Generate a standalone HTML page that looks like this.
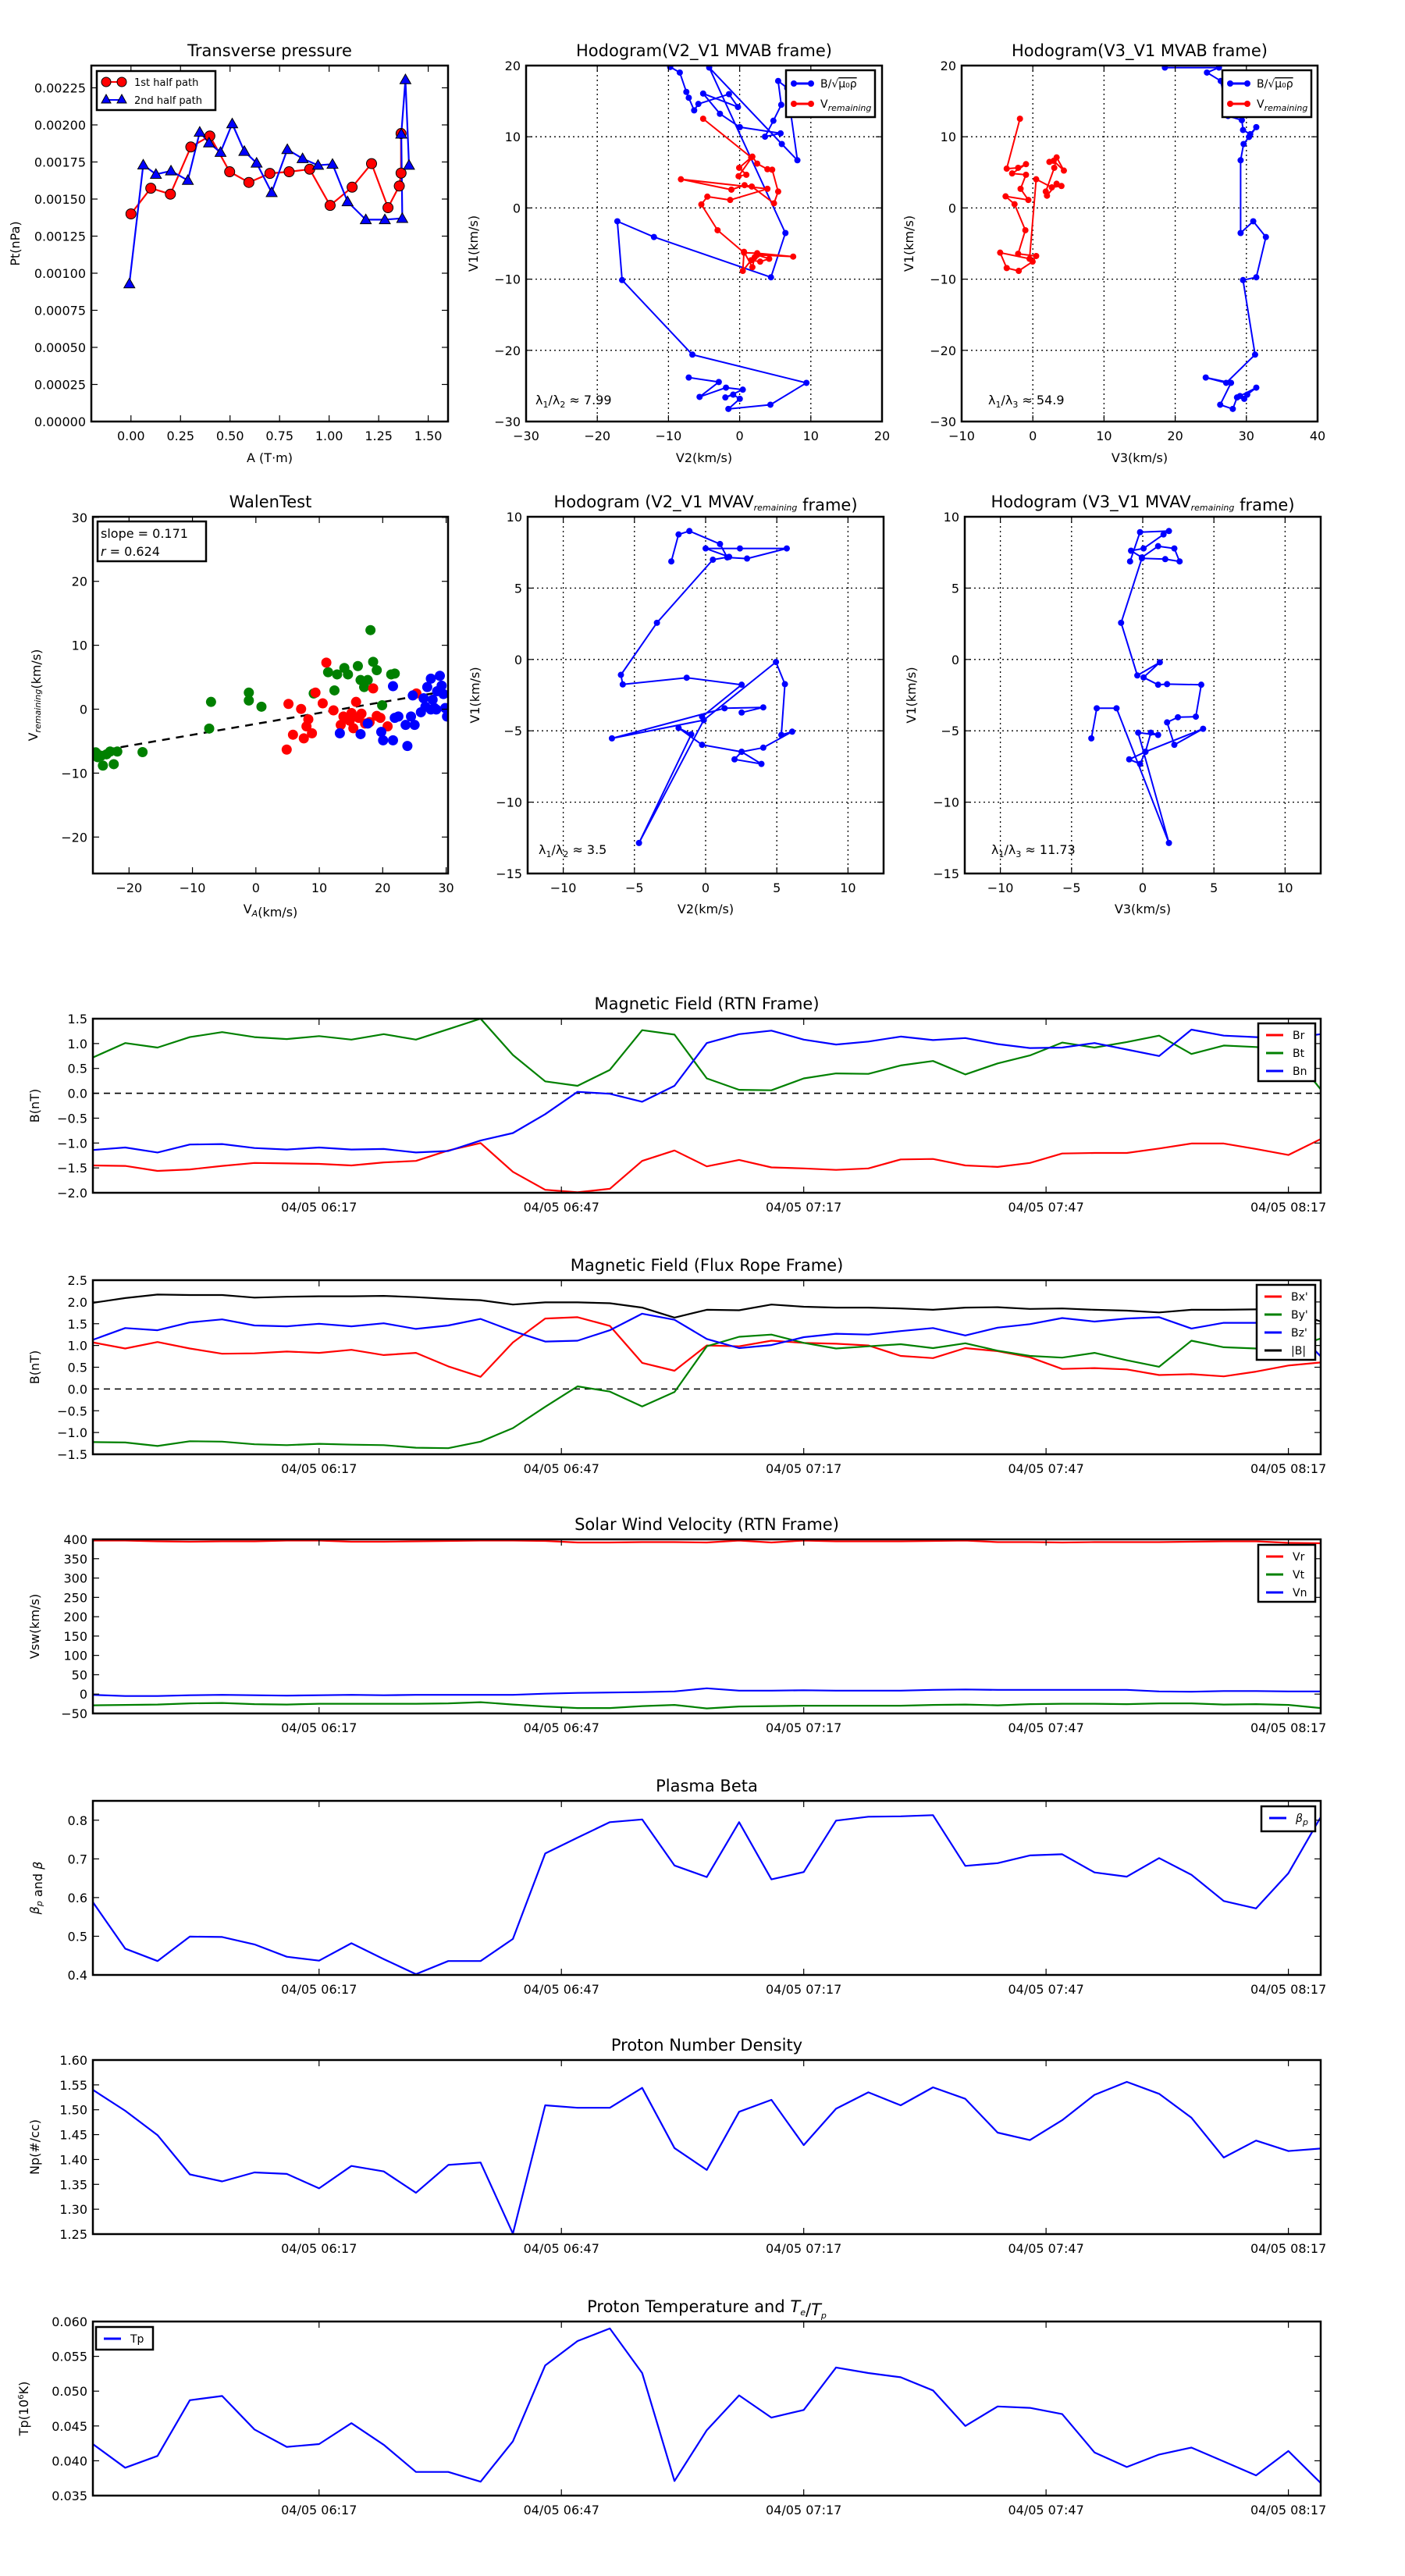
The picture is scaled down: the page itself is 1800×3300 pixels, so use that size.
<!DOCTYPE html>
<html><head><meta charset="utf-8"><title>Flux rope analysis</title>
<style>
html,body{margin:0;padding:0;background:#fff;}
svg{display:block;font-family:"DejaVu Sans","Liberation Sans",sans-serif;}
</style></head>
<body>
<svg id="fig" width="1800" height="3300" viewBox="0 0 1800 3300" xmlns="http://www.w3.org/2000/svg"></svg>
<script>
// ---------- Data ----------
const presRedA=[0,0.100,0.199,0.302,0.398,0.498,0.595,0.701,0.798,0.902,1.005,1.116,1.214,1.297,1.354,1.363,1.363];
const presRedPt=[0.00140,0.001573,0.001533,0.001851,0.001925,0.001684,0.001612,0.001673,0.001684,0.001701,0.001457,0.001580,0.001739,0.001442,0.001588,0.001675,0.001942];
const presBlueA=[-0.008,0.062,0.126,0.202,0.287,0.347,0.394,0.452,0.511,0.572,0.634,0.710,0.789,0.866,0.944,1.017,1.093,1.185,1.281,1.369,1.364,1.385,1.403];
const presBluePt=[0.000929,0.001730,0.001667,0.001690,0.001626,0.001951,0.001879,0.001815,0.002008,0.001822,0.001743,0.001544,0.001834,0.001773,0.001728,0.001735,0.001482,0.001361,0.001361,0.001370,0.001938,0.002305,0.001728];

const hA_bV2=[-9.76,-8.41,-7.49,-7.15,-6.39,-5.80,-1.50,-0.24,-5.13,-2.77,0.02,5.75,3.56,4.74,5.84,5.41,6.68,8.11,5.92,-4.28,6.43,4.40,-12.04,-17.18,-16.51,-6.64,9.38,4.32,-1.58,0.02,-0.91,-2.01,0.44,-1.92,-5.63,-2.93,-7.15];
const hA_bV1=[19.80,19.02,16.30,15.48,13.71,14.61,15.99,14.18,16.07,13.23,11.35,10.48,10.01,12.25,14.49,17.84,16.85,6.70,8.98,19.72,-3.52,-9.74,-4.08,-1.87,-10.13,-20.60,-24.57,-27.64,-28.23,-26.81,-26.22,-26.62,-25.52,-25.24,-26.54,-24.45,-23.82];
const hA_rV2=[-5.13,1.62,-0.07,0.94,-0.15,1.79,2.46,3.90,4.57,5.41,4.82,1.70,0.69,-1.16,-8.25,3.90,-1.33,-4.54,-5.38,-3.10,0.61,2.46,7.52,2.46,4.15,2.88,1.62,0.44,0.61,1.79,2.12];
const hA_rV1=[12.53,7.10,5.64,4.66,4.46,7.21,6.23,5.44,5.37,2.30,0.65,3.01,3.20,2.57,4.03,2.69,1.12,1.59,0.49,-3.13,-6.28,-6.36,-6.83,-6.59,-7.14,-7.54,-7.34,-8.84,-6.16,-8.32,-6.91];

const hB_bV3=[18.55,26.15,24.46,26.40,27.42,29.36,29.53,30.54,31.39,30.37,29.61,29.19,29.19,30.96,32.74,31.39,29.53,31.22,27.16,24.29,27.84,26.32,28.09,28.68,29.70,30.12,31.39,29.10];
const hB_bV1=[19.72,19.72,19.02,17.84,12.92,12.33,10.95,10.36,11.35,9.97,8.98,6.70,-3.52,-1.87,-4.08,-9.74,-10.13,-20.60,-24.57,-23.82,-24.57,-27.64,-28.23,-26.62,-26.81,-26.22,-25.24,-26.42];
const hB_rV3=[-1.81,-3.67,-2.06,-0.96,-2.91,-0.96,-1.72,-0.63,-3.83,-2.57,-1.05,-2.06,0.47,-0.03,-1.98,-3.67,-4.59,-0.46,0.47,2.67,4.02,3.34,1.99,1.82,3.01,3.34,4.36,2.92,2.33];
const hB_rV1=[12.53,5.52,5.64,6.15,4.85,4.66,2.69,1.12,1.63,0.53,-3.13,-6.44,-6.75,-7.54,-8.84,-8.44,-6.28,-7.14,4.03,2.89,3.08,3.40,1.72,2.30,5.64,7.10,5.25,6.62,6.47];

const walGreenVA=[-25.26,-24.40,-24.12,-23.55,-22.98,-22.41,-21.85,-17.87,-7.36,-7.07,-1.11,-1.11,0.88,9.12,12.39,11.39,12.81,13.95,14.52,16.08,16.51,17.07,17.64,18.07,18.49,19.06,19.91,21.34,21.90,-24.97];
const walGreenV=[-6.75,-7.28,-8.82,-7.06,-6.62,-8.60,-6.62,-6.71,-3.03,1.14,2.59,1.36,0.39,2.46,2.94,5.79,5.44,6.45,5.44,6.75,4.56,3.46,4.56,12.37,7.41,6.10,0.61,5.44,5.57,-7.50];
const walRedVA=[4.86,5.14,5.85,7.13,7.56,7.98,8.27,8.84,9.40,10.54,11.11,12.24,13.38,14.23,14.80,15.37,15.80,16.22,16.65,17.22,17.93,18.49,19.06,19.63,20.77,25.31,13.81,15.09];
const walRedV=[-6.32,0.83,-3.99,0.04,-4.56,-2.68,-1.58,-3.77,2.59,0.92,7.28,-0.18,-2.46,-1.36,-1.80,-2.98,1.14,-1.36,-0.70,-2.24,-2.02,3.25,-1.05,-1.36,-2.68,2.46,-1.14,-0.61];
const walBlueVA=[13.24,16.51,17.64,19.77,20.06,21.62,21.62,21.90,22.47,23.61,23.89,24.46,24.74,25.03,26.02,26.45,27.02,27.59,27.87,28.15,28.58,29.01,29.29,29.57,29.86,30.14,28.44,27.59,26.73];
const walBlueV=[-3.77,-3.90,-2.24,-3.55,-4.87,-4.87,3.60,-1.36,-1.14,-2.46,-5.75,-1.14,2.15,-2.46,-0.48,1.71,3.46,4.78,1.49,0.18,2.81,5.22,3.68,2.37,0.18,-1.14,-0.04,-0.04,0.39];
const walSlope=0.171, walIntercept=-2.3;

const hC_V2=[-2.41,-1.90,-1.14,1.01,1.52,2.91,5.70,2.41,0.00,1.65,0.51,-3.42,-5.95,-5.82,-1.33,2.53,-0.25,-0.13,4.94,5.57,5.32,6.08,4.05,2.53,2.03,3.92,2.53,-0.25,-1.90,-1.01,-4.68,-0.13,-6.58,1.33,4.05,2.53];
const hC_V1=[6.87,8.76,9.00,8.09,7.15,7.07,7.78,7.78,7.78,7.19,6.99,2.57,-1.08,-1.75,-1.28,-1.77,-4.01,-4.25,-0.18,-1.73,-5.29,-5.06,-6.18,-6.47,-7.00,-7.32,-6.47,-5.98,-4.80,-5.25,-12.86,-4.25,-5.53,-3.42,-3.36,-3.72];
const hD_V3=[-0.89,-0.19,1.84,1.46,0.06,-0.82,-0.06,1.08,2.22,2.59,1.58,-0.06,-1.52,-0.38,1.20,0.06,1.08,1.71,4.11,3.73,2.47,1.71,2.22,4.24,0.19,-0.95,-0.19,0.19,0.57,1.08,-0.32,1.84,-1.84,-3.23,-3.61];
const hD_V1=[6.87,8.92,9.00,8.76,7.78,7.62,7.15,7.94,7.78,6.87,7.03,7.09,2.57,-1.12,-0.20,-1.26,-1.77,-1.73,-1.77,-4.01,-4.05,-4.41,-5.98,-4.86,-6.47,-7.00,-7.32,-6.47,-5.13,-5.29,-5.13,-12.86,-3.42,-3.42,-5.53];

const timeTickIdx=[7,14.5,22,29.5,37];
const timeTickLabels=['04/05 06:17','04/05 06:47','04/05 07:17','04/05 07:47','04/05 08:17'];

const Br=[-1.45,-1.46,-1.56,-1.53,-1.46,-1.40,-1.41,-1.42,-1.45,-1.39,-1.36,-1.15,-1.00,-1.58,-1.94,-1.99,-1.92,-1.36,-1.15,-1.47,-1.34,-1.49,-1.51,-1.54,-1.51,-1.33,-1.32,-1.45,-1.48,-1.40,-1.21,-1.20,-1.20,-1.11,-1.01,-1.01,-1.12,-1.24,-0.92];
const Bt=[0.72,1.01,0.92,1.13,1.23,1.13,1.09,1.15,1.08,1.19,1.08,1.29,1.50,0.77,0.24,0.15,0.47,1.27,1.18,0.30,0.07,0.06,0.30,0.40,0.39,0.56,0.65,0.38,0.60,0.76,1.02,0.92,1.03,1.16,0.79,0.96,0.93,0.88,0.08];
const Bn=[-1.14,-1.09,-1.19,-1.03,-1.02,-1.10,-1.13,-1.09,-1.13,-1.12,-1.19,-1.16,-0.95,-0.80,-0.42,0.03,-0.01,-0.17,0.15,1.01,1.19,1.26,1.08,0.98,1.04,1.14,1.07,1.11,0.99,0.91,0.92,1.01,0.88,0.75,1.28,1.16,1.13,1.10,1.19];

const Bxp=[1.07,0.93,1.08,0.93,0.81,0.82,0.86,0.83,0.90,0.78,0.83,0.52,0.28,1.07,1.62,1.65,1.45,0.60,0.42,1.00,0.98,1.11,1.06,1.04,1.00,0.76,0.71,0.94,0.87,0.73,0.46,0.48,0.45,0.32,0.34,0.29,0.40,0.54,0.61];
const Byp=[-1.22,-1.23,-1.31,-1.20,-1.21,-1.27,-1.29,-1.26,-1.28,-1.29,-1.35,-1.36,-1.21,-0.90,-0.41,0.06,-0.06,-0.40,-0.07,0.98,1.20,1.25,1.06,0.93,0.98,1.03,0.94,1.05,0.88,0.76,0.72,0.83,0.66,0.51,1.11,0.96,0.93,0.91,1.16];
const Bzp=[1.13,1.40,1.35,1.53,1.60,1.46,1.44,1.50,1.44,1.51,1.38,1.46,1.61,1.33,1.09,1.11,1.35,1.73,1.59,1.15,0.94,1.01,1.19,1.27,1.25,1.33,1.40,1.23,1.41,1.49,1.63,1.55,1.62,1.65,1.39,1.52,1.52,1.52,0.75];
const Bmag=[1.98,2.09,2.17,2.16,2.16,2.10,2.12,2.13,2.13,2.14,2.11,2.07,2.04,1.94,1.99,1.99,1.97,1.87,1.64,1.82,1.81,1.94,1.89,1.87,1.87,1.85,1.82,1.87,1.88,1.84,1.85,1.82,1.80,1.76,1.82,1.82,1.83,1.83,1.55];

const Vr=[397,397,395,394,395,395,397,397,394,394,395,396,397,397,396,392,392,393,393,392,397,392,397,395,395,395,396,397,393,393,392,393,393,393,394,395,395,391,390];
const Vt=[-29,-28,-27,-24,-23,-26,-27,-25,-25,-25,-25,-24,-21,-27,-32,-36,-36,-31,-28,-37,-32,-31,-30,-30,-30,-30,-28,-27,-29,-26,-25,-25,-26,-24,-24,-27,-26,-28,-36];
const Vn=[-2,-5,-5,-3,-2,-3,-4,-3,-2,-3,-2,-2,-2,-2,1,3,4,5,7,15,9,9,10,9,9,9,11,12,11,11,11,11,11,7,6,8,8,7,7];

const betaP=[0.588,0.468,0.436,0.499,0.498,0.479,0.447,0.437,0.482,0.441,0.402,0.436,0.436,0.493,0.714,0.755,0.795,0.802,0.683,0.653,0.795,0.647,0.666,0.799,0.809,0.810,0.813,0.682,0.689,0.709,0.712,0.665,0.654,0.702,0.659,0.591,0.572,0.663,0.808];
const Np=[1.540,1.498,1.449,1.370,1.356,1.374,1.371,1.342,1.387,1.376,1.333,1.389,1.394,1.251,1.509,1.504,1.504,1.544,1.423,1.379,1.496,1.520,1.429,1.502,1.535,1.509,1.545,1.522,1.454,1.439,1.479,1.530,1.556,1.532,1.484,1.404,1.438,1.417,1.422];
const Tp=[0.0424,0.0390,0.0407,0.0487,0.0493,0.0445,0.0420,0.0424,0.0454,0.0423,0.0384,0.0384,0.0370,0.0428,0.0537,0.0572,0.0590,0.0526,0.0371,0.0444,0.0494,0.0462,0.0473,0.0534,0.0526,0.0520,0.0501,0.0450,0.0478,0.0476,0.0467,0.0412,0.0391,0.0409,0.0419,0.0399,0.0379,0.0414,0.0368];

// ---------- Helpers ----------
const NS='http://www.w3.org/2000/svg';
const svg=document.getElementById('fig');
let clipN=0;
function el(tag,attrs,parent,name){
  const e=document.createElementNS(NS,tag);
  for(const k in attrs) e.setAttribute(k,attrs[k]);
  
  
  parent.appendChild(e);
  return e;
}
function txt(parent,x,y,s,size,anchor,name,extra){
  const a={x:x,y:y,'font-size':size,'text-anchor':anchor||'middle',fill:'#000'};
  if(extra) for(const k in extra) a[k]=extra[k];
  const t=el('text',a,parent,name);
  t.innerHTML=s;
  return t;
}
function fmt(v,d){return v.toFixed(d).replace('-','\u2212');}

function axes(o){
  const g=el('g',{},svg,o.name);
  const sx=v=>o.x+(v-o.xmin)/(o.xmax-o.xmin)*o.w;
  const sy=v=>o.y+o.h-(v-o.ymin)/(o.ymax-o.ymin)*o.h;
  const cid='clip'+(clipN++);
  const defs=el('defs',{},g,'clip-defs');
  const cp=el('clipPath',{id:cid},defs,'clip-path');
  el('rect',{x:o.x,y:o.y,width:o.w,height:o.h},cp,'clip-rect');
  if(o.grid){
    (o.xt||[]).forEach(v=>{ if(v>o.xmin&&v<o.xmax) el('line',{x1:sx(v),y1:o.y,x2:sx(v),y2:o.y+o.h,stroke:'#000','stroke-width':1.3,'stroke-dasharray':'2,4'},g,'grid-line-x'); });
    (o.yt||[]).forEach(v=>{ if(v>o.ymin&&v<o.ymax) el('line',{x1:o.x,y1:sy(v),x2:o.x+o.w,y2:sy(v),stroke:'#000','stroke-width':1.3,'stroke-dasharray':'2,4'},g,'grid-line-y'); });
  }
  const data=el('g',{'clip-path':'url(#'+cid+')'},g,'plot-area');
  const tg=el('g',{},g,'ticks');
  (o.xt||[]).forEach((v,i)=>{
    const X=sx(v);
    el('line',{x1:X,y1:o.y+o.h,x2:X,y2:o.y+o.h-8,stroke:'#000','stroke-width':1.2},tg,'x-tick');
    el('line',{x1:X,y1:o.y,x2:X,y2:o.y+8,stroke:'#000','stroke-width':1.2},tg,'x-tick');
    const lab=o.xlab?o.xlab[i]:fmt(v,o.xd||0);
    txt(tg,X,o.y+o.h+24,lab,16,'middle','x-tick-label');
  });
  (o.yt||[]).forEach(v=>{
    const Y=sy(v);
    el('line',{x1:o.x,y1:Y,x2:o.x+8,y2:Y,stroke:'#000','stroke-width':1.2},tg,'y-tick');
    el('line',{x1:o.x+o.w,y1:Y,x2:o.x+o.w-8,y2:Y,stroke:'#000','stroke-width':1.2},tg,'y-tick');
    txt(tg,o.x-7,Y+6,fmt(v,o.yd||0),16,'end','y-tick-label');
  });
  if(o.title) txt(g,o.x+o.w/2,o.y-12,o.title,21,'middle','chart-title');
  if(o.ylabel) txt(g,o.ylx,o.y+o.h/2,o.ylabel,16,'middle','y-axis-title',{transform:'rotate(-90 '+o.ylx+' '+(o.y+o.h/2)+')'});
  if(o.xlabel) txt(g,o.x+o.w/2,o.xly,o.xlabel,16,'middle','x-axis-title');
  return {g,data,sx,sy,o,finish(){
    el('rect',{x:o.x,y:o.y,width:o.w,height:o.h,fill:'none',stroke:'#000','stroke-width':2.5},g,'axes-frame');
  }};
}
function polyline(ax,xs,ys,color,w,name){
  const pts=xs.map((v,i)=>ax.sx(v).toFixed(1)+','+ax.sy(ys[i]).toFixed(1)).join(' ');
  return el('polyline',{points:pts,fill:'none',stroke:color,'stroke-width':w,'stroke-linejoin':'round'},ax.data,name);
}
function dots(ax,xs,ys,color,r,name,stroke){
  xs.forEach((v,i)=>{
    const c=el('circle',{cx:ax.sx(v),cy:ax.sy(ys[i]),r:r,fill:color,stroke:stroke||'none','stroke-width':1},ax.data,name);
  });
}
function tris(ax,xs,ys,color,s,name){
  xs.forEach((v,i)=>{
    const X=ax.sx(v),Y=ax.sy(ys[i]);
    el('polygon',{points:(X)+','+(Y-s)+' '+(X-s)+','+(Y+s*0.75)+' '+(X+s)+','+(Y+s*0.75),fill:color,stroke:'#000','stroke-width':1},ax.data,name);
  });
}
function range(a,b,s){const r=[];for(let v=a;v<=b+1e-9;v+=s)r.push(Math.round(v/s)*s);return r;}
function legendBox(x,y,w,h,name){
  const g=el('g',{},svg,name);
  el('rect',{x:x,y:y,width:w,height:h,fill:'#fff',stroke:'#000','stroke-width':2.5},g,'legend-frame');
  return g;
}
function legendLine(g,x,y,color,label,name,marker,fs){
  const e=el('g',{},g,name);
  el('line',{x1:x,y1:y,x2:x+22,y2:y,stroke:color,'stroke-width':3},e,'legend-swatch');
  if(marker==='dot'){el('circle',{cx:x,cy:y,r:4,fill:color},e,'legend-marker');el('circle',{cx:x+22,cy:y,r:4,fill:color},e,'legend-marker');}
  txt(e,x+34,y+5,label,fs||14,'start','legend-label');
}
const sub=s=>'<tspan font-size="11" font-style="italic" dy="4">'+s+'</tspan><tspan dy="-4"></tspan>';

// ---------- Transverse pressure ----------
{
 const ax=axes({name:'transverse-pressure-chart',x:117,y:84,w:457,h:456,xmin:-0.2,xmax:1.6,ymin:0,ymax:0.0024,
   xt:range(0,1.5,0.25),xd:2,yt:range(0,0.00225,0.00025),yd:5,title:'Transverse pressure',ylabel:'Pt(nPa)',ylx:25,xlabel:'A (T·m)',xly:592});
 polyline(ax,presRedA,presRedPt,'red',2.2,'first-half-line');
 polyline(ax,presBlueA,presBluePt,'blue',2.2,'second-half-line');
 dots(ax,presRedA,presRedPt,'red',6.5,'first-half-point','#000');
 tris(ax,presBlueA,presBluePt,'blue',7,'second-half-point');
 ax.finish();
 const lg=legendBox(124,91,152,50,'pressure-legend');
 const e1=el('g',{},lg,'legend-entry-first-half');
 el('line',{x1:136,y1:105,x2:156,y2:105,stroke:'red','stroke-width':2},e1,'legend-swatch');
 el('circle',{cx:136,cy:105,r:6,fill:'red',stroke:'#000'},e1,'legend-marker');
 el('circle',{cx:156,cy:105,r:6,fill:'red',stroke:'#000'},e1,'legend-marker');
 txt(e1,172,110,'1st half path',13,'start','legend-label');
 const e2=el('g',{},lg,'legend-entry-second-half');
 el('line',{x1:136,y1:128,x2:156,y2:128,stroke:'blue','stroke-width':2},e2,'legend-swatch');
 el('polygon',{points:'136,121 130,132 142,132',fill:'blue',stroke:'#000'},e2,'legend-marker');
 el('polygon',{points:'156,121 150,132 162,132',fill:'blue',stroke:'#000'},e2,'legend-marker');
 txt(e2,172,133,'2nd half path',13,'start','legend-label');
}
// ---------- Hodogram V2_V1 MVAB ----------
function hodoLegend(x){
 const lg=legendBox(x,90,114,60,'hodogram-legend');
 legendLine(lg,x+10,107,'blue','B/√<tspan text-decoration="overline">μ₀ρ</tspan>','legend-entry-b','dot',14);
 legendLine(lg,x+10,133,'red','V'+sub('remaining'),'legend-entry-vremaining','dot',14);
}
{
 const ax=axes({name:'hodogram-v2-v1-mvab',x:674,y:84,w:456,h:456,xmin:-30,xmax:20,ymin:-30,ymax:20,
   xt:range(-30,20,10),yt:range(-30,20,10),grid:true,title:'Hodogram(V2_V1 MVAB frame)',ylabel:'V1(km/s)',ylx:612,xlabel:'V2(km/s)',xly:592});
 polyline(ax,hA_bV2,hA_bV1,'blue',2,'b-hodogram-line'); dots(ax,hA_bV2,hA_bV1,'blue',4,'b-hodogram-point');
 polyline(ax,hA_rV2,hA_rV1,'red',2,'v-remaining-line'); dots(ax,hA_rV2,hA_rV1,'red',4,'v-remaining-point');
 txt(ax.g,686,518,'λ<tspan font-size="11" dy="4">1</tspan><tspan dy="-4">/λ</tspan><tspan font-size="11" dy="4">2</tspan><tspan dy="-4"> ≈ 7.99</tspan>',16,'start','eigenvalue-ratio');
 ax.finish(); hodoLegend(1007);
}
// ---------- Hodogram V3_V1 MVAB ----------
{
 const ax=axes({name:'hodogram-v3-v1-mvab',x:1232,y:84,w:456,h:456,xmin:-10,xmax:40,ymin:-30,ymax:20,
   xt:range(-10,40,10),yt:range(-30,20,10),grid:true,title:'Hodogram(V3_V1 MVAB frame)',ylabel:'V1(km/s)',ylx:1170,xlabel:'V3(km/s)',xly:592});
 polyline(ax,hB_bV3,hB_bV1,'blue',2,'b-hodogram-line'); dots(ax,hB_bV3,hB_bV1,'blue',4,'b-hodogram-point');
 polyline(ax,hB_rV3,hB_rV1,'red',2,'v-remaining-line'); dots(ax,hB_rV3,hB_rV1,'red',4,'v-remaining-point');
 txt(ax.g,1266,518,'λ<tspan font-size="11" dy="4">1</tspan><tspan dy="-4">/λ</tspan><tspan font-size="11" dy="4">3</tspan><tspan dy="-4"> ≈ 54.9</tspan>',16,'start','eigenvalue-ratio');
 ax.finish(); hodoLegend(1566);
}
// ---------- Walen test ----------
{
 const ax=axes({name:'walen-test-chart',x:119,y:662,w:455,h:457,xmin:-25.7,xmax:30.3,ymin:-25.7,ymax:30.1,
   xt:range(-20,30,10),yt:range(-20,30,10),title:'WalenTest',ylabel:'V'+sub('remaining')+'(km/s)',ylx:48,xlabel:'V'+sub('A')+'(km/s)',xly:1170});
 el('line',{x1:ax.sx(-25.7),y1:ax.sy(walIntercept+walSlope*-25.7),x2:ax.sx(30.3),y2:ax.sy(walIntercept+walSlope*30.3),stroke:'#000','stroke-width':2.5,'stroke-dasharray':'10,8'},ax.data,'fit-line');
 dots(ax,walGreenVA,walGreenV,'#008000',6.5,'walen-point-green');
 dots(ax,walRedVA,walRedV,'red',6.5,'walen-point-red');
 dots(ax,walBlueVA,walBlueV,'blue',6.5,'walen-point-blue');
 ax.finish();
 const b=el('g',{},svg,'fit-stats-box');
 el('rect',{x:125,y:668,width:139,height:51,fill:'#fff',stroke:'#000','stroke-width':2.5},b,'stats-frame');
 txt(b,129,689,'slope = 0.171',16,'start','slope-text');
 txt(b,129,712,'<tspan font-style="italic">r</tspan> = 0.624',16,'start','r-text');
}
// ---------- Hodogram MVAV remaining ----------
{
 const ax=axes({name:'hodogram-v2-v1-mvav',x:676,y:662,w:456,h:457,xmin:-12.5,xmax:12.5,ymin:-15,ymax:10,
   xt:range(-10,10,5),yt:range(-15,10,5),grid:true,title:'Hodogram (V2_V1 MVAV'+sub('remaining')+' frame)',ylabel:'V1(km/s)',ylx:614,xlabel:'V2(km/s)',xly:1170});
 polyline(ax,hC_V2,hC_V1,'blue',2,'hodogram-line'); dots(ax,hC_V2,hC_V1,'blue',4,'hodogram-point');
 txt(ax.g,690,1094,'λ<tspan font-size="11" dy="4">1</tspan><tspan dy="-4">/λ</tspan><tspan font-size="11" dy="4">2</tspan><tspan dy="-4"> ≈ 3.5</tspan>',16,'start','eigenvalue-ratio');
 ax.finish();
}
{
 const ax=axes({name:'hodogram-v3-v1-mvav',x:1236,y:662,w:456,h:457,xmin:-12.5,xmax:12.5,ymin:-15,ymax:10,
   xt:range(-10,10,5),yt:range(-15,10,5),grid:true,title:'Hodogram (V3_V1 MVAV'+sub('remaining')+' frame)',ylabel:'V1(km/s)',ylx:1173,xlabel:'V3(km/s)',xly:1170});
 polyline(ax,hD_V3,hD_V1,'blue',2,'hodogram-line'); dots(ax,hD_V3,hD_V1,'blue',4,'hodogram-point');
 txt(ax.g,1270,1094,'λ<tspan font-size="11" dy="4">1</tspan><tspan dy="-4">/λ</tspan><tspan font-size="11" dy="4">3</tspan><tspan dy="-4"> ≈ 11.73</tspan>',16,'start','eigenvalue-ratio');
 ax.finish();
}
// ---------- Time series ----------
const idx=Br.map((_,i)=>i);
function ts(o,series,legend){
 const ax=axes(Object.assign({x:119,w:1573,h:223,xmin:0,xmax:38,xt:timeTickIdx,xlab:timeTickLabels,ylx:50},o));
 if(o.zero) el('line',{x1:ax.sx(0),y1:ax.sy(0),x2:ax.sx(38),y2:ax.sy(0),stroke:'#000','stroke-width':1.6,'stroke-dasharray':'8,6'},ax.data,'zero-line');
 series.forEach(s=>polyline(ax,idx,s[0],s[1],2.2,s[2]));
 ax.finish();
 if(legend){
  const lg=legendBox(legend.x,legend.y,legend.w,legend.h,o.name+'-legend');
  legend.items.forEach((it,i)=>legendLine(lg,legend.x+10,legend.y+15+i*23,it[0],it[1],'legend-entry-'+i,null,14));
 }
}
ts({name:'magnetic-field-rtn-chart',y:1305,ymin:-2,ymax:1.5,yt:range(-2,1.5,0.5),yd:1,title:'Magnetic Field (RTN Frame)',ylabel:'B(nT)',zero:true},
   [[Br,'red','br-line'],[Bt,'#008000','bt-line'],[Bn,'blue','bn-line']],
   {x:1612,y:1311,w:73,h:74,items:[['red','Br'],['#008000','Bt'],['blue','Bn']]});
ts({name:'magnetic-field-flux-rope-chart',y:1640,ymin:-1.5,ymax:2.5,yt:range(-1.5,2.5,0.5),yd:1,title:'Magnetic Field (Flux Rope Frame)',ylabel:'B(nT)',zero:true},
   [[Bxp,'red','bx-line'],[Byp,'#008000','by-line'],[Bzp,'blue','bz-line'],[Bmag,'#000','bmag-line']],
   {x:1610,y:1646,w:75,h:96,items:[['red',"Bx'"],['#008000',"By'"],['blue',"Bz'"],['#000','|B|']]});
ts({name:'solar-wind-velocity-chart',y:1972,ymin:-50,ymax:400,yt:range(-50,400,50),yd:0,title:'Solar Wind Velocity (RTN Frame)',ylabel:'Vsw(km/s)'},
   [[Vr,'red','vr-line'],[Vt,'#008000','vt-line'],[Vn,'blue','vn-line']],
   {x:1612,y:1979,w:73,h:73,items:[['red','Vr'],['#008000','Vt'],['blue','Vn']]});
ts({name:'plasma-beta-chart',y:2307,ymin:0.4,ymax:0.85,yt:range(0.4,0.8,0.1),yd:1,title:'Plasma Beta',ylabel:'<tspan font-style="italic">β</tspan>'+sub('p')+' and <tspan font-style="italic">β</tspan>'},
   [[betaP,'blue','beta-line']],
   {x:1616,y:2314,w:69,h:32,items:[['blue','<tspan font-style="italic">β</tspan>'+sub('p')]]});
ts({name:'proton-density-chart',y:2639,ymin:1.25,ymax:1.6,yt:range(1.25,1.6,0.05),yd:2,title:'Proton Number Density',ylabel:'Np(#/cc)'},
   [[Np,'blue','density-line']],null);
ts({name:'proton-temperature-chart',y:2974,ymin:0.035,ymax:0.06,yt:range(0.035,0.06,0.005),yd:3,title:'Proton Temperature and <tspan font-style="italic">T</tspan>'+sub('e')+'/<tspan font-style="italic">T</tspan>'+sub('p'),ylabel:'Tp(10<tspan font-size="10" dy="-6">6</tspan><tspan dy="6">K)</tspan>',ylx:36},
   [[Tp,'blue','temperature-line']],
   {x:123,y:2981,w:73,h:29,items:[['blue','Tp']]});
</script>
</body></html>
